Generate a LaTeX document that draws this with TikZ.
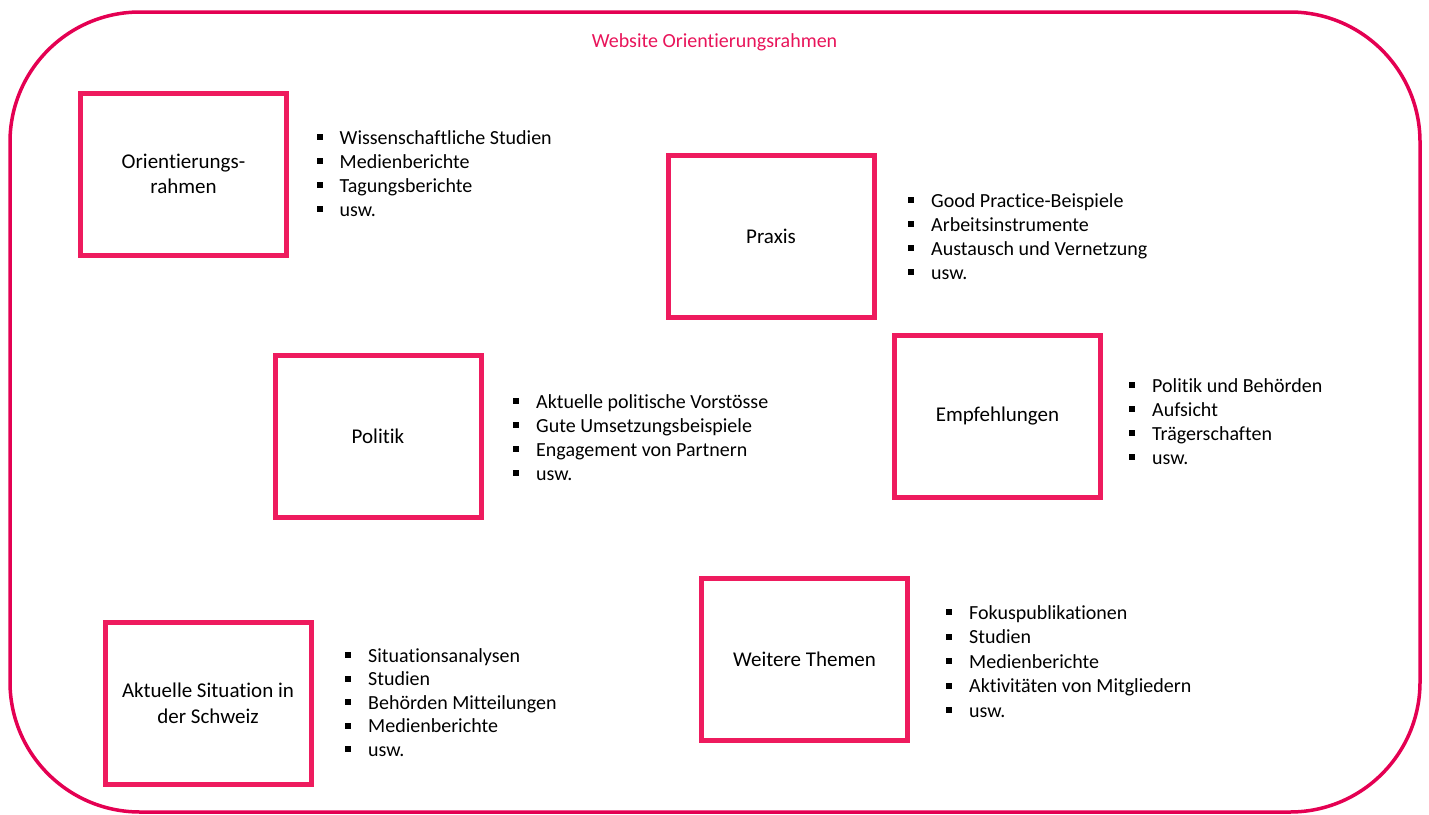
\documentclass[tikz,border=0pt]{standalone}
\usepackage{fontspec}
\setmainfont{Carlito}[Ligatures={NoCommon,NoContextual}]
\definecolor{framepink}{RGB}{228,0,82}
\definecolor{boxpink}{RGB}{238,27,94}
\definecolor{titlepink}{RGB}{232,20,90}
\begin{document}
\begin{tikzpicture}[x=1pt,y=-1pt,
  frame/.style={draw=framepink, line width=3.5pt, rounded corners=130pt, minimum width=1410pt, minimum height=800pt, inner sep=0pt},
  topicbox/.style={draw=boxpink, line width=5pt, minimum width=206pt, minimum height=162pt, inner sep=0pt, align=center, font=\fontsize{21}{25.5}\selectfont},
  item/.style={anchor=base west, inner sep=0pt, font=\fontsize{20}{24}\selectfont},
  titletext/.style={anchor=base, inner sep=0pt, text=titlepink, font=\fontsize{20}{24}\selectfont}]
\useasboundingbox (0,0) rectangle (1429,814);
\newcommand{\bul}{\llap{\rule[4pt]{6pt}{6pt}\hspace{17pt}}}

\node[frame] (frame) at (715,412) {};
\node[titletext] (title) at (714.5,47) {Website Orientierungsrahmen};

\node[topicbox] (orient) at (183.5,174) {Orientierungs-\\rahmen};
\node[topicbox] (praxis) at (771,236) {Praxis};
\node[topicbox] (politik) at (378,436) {Politik};
\node[topicbox] (empf) at (997.5,416) {Empfehlungen};
\node[topicbox] (weitere) at (804.5,659) {Weitere Themen};
\node[topicbox] (akt) at (208,703.5) {Aktuelle Situation in\\der Schweiz};

\foreach \t [count=\i] in {Wissenschaftliche Studien, Medienberichte, Tagungsberichte, usw.}
  \node[item] (ol\i) at ({339.5},{144+24*(\i-1)}) {\bul\t};
\foreach \t [count=\i] in {Good Practice-Beispiele, Arbeitsinstrumente, Austausch und Vernetzung, usw.}
  \node[item] (pl\i) at ({931},{207+24*(\i-1)}) {\bul\t};
\foreach \t [count=\i] in {Aktuelle politische Vorstösse, Gute Umsetzungsbeispiele, Engagement von Partnern, usw.}
  \node[item] (pol\i) at ({536},{408+24*(\i-1)}) {\bul\t};
\foreach \t [count=\i] in {Politik und Behörden, Aufsicht, Trägerschaften, usw.}
  \node[item] (el\i) at ({1152},{392+24*(\i-1)}) {\bul\t};
\foreach \t [count=\i] in {Fokuspublikationen, Studien, Medienberichte, Aktivitäten von Mitgliedern, usw.}
  \node[item] (wl\i) at ({969},{619+24.5*(\i-1)}) {\bul\t};
\foreach \t [count=\i] in {Situationsanalysen, Studien, Behörden Mitteilungen, Medienberichte, usw.}
  \node[item] (al\i) at ({368},{662+23.5*(\i-1)}) {\bul\t};
\end{tikzpicture}
\end{document}
